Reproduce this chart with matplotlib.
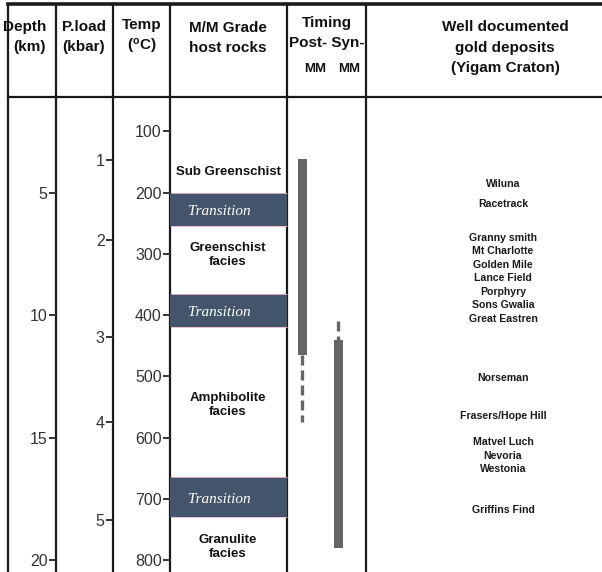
import numpy as np
import matplotlib.pyplot as plt
from matplotlib.lines import Line2D

plt.rcParams['font.family'] = ['Liberation Sans', 'DejaVu Sans']

# depth scale (km); temperature follows a 40 C/km geotherm
depth_km = [5, 10, 15, 20]
geotherm = 40.0  # degC per km

# pressure ticks and the depth at which each sits
pload_kbar = [1, 2, 3, 4, 5]
pload_km = [3.67, 6.94, 10.90, 14.37, 18.37]

temp_c = [100, 200, 300, 400, 500, 600, 700, 800]

# metamorphic grade (temperature ranges in degC)
transitions = [(200, 255), (365, 420), (665, 730)]
facies = ['Sub Greenschist', 'Greenschist\nfacies', 'Amphibolite\nfacies', 'Granulite\nfacies']
facies_t = [166, 302, 547, 779]

# mineralisation timing (degC)
post_mm_solid = (145, 465)
post_mm_dashed = (465, 575)
syn_mm_dashed = (410, 440)
syn_mm_solid = (440, 780)

deposits = ['Wiluna', 'Racetrack', 'Granny smith', 'Mt Charlotte', 'Golden Mile',
            'Lance Field', 'Porphyry', 'Sons Gwalia', 'Great Eastren', 'Norseman',
            'Frasers/Hope Hill', 'Matvel Luch', 'Nevoria', 'Westonia', 'Griffins Find']
deposit_t = [186, 219, 274, 296, 318, 340, 362, 384, 407, 503, 565, 607, 630, 651, 718]

W, H = 602, 572
fig = plt.figure(figsize=(W / 100, H / 100), dpi=100)

# frame axes in pixel units for the table grid and header
frame = fig.add_axes([0, 0, 1, 1])
frame.set_xlim(0, W)
frame.set_ylim(H, 0)
frame.axis('off')

col_x = [8, 56, 113, 170, 287, 366]
top_y, head_y = 4, 97
lc = '#1a1a1a'
frame.add_line(Line2D([8, W], [top_y, top_y], color=lc, lw=2.6))
frame.add_line(Line2D([8, W], [head_y, head_y], color=lc, lw=1.6))
for x in col_x:
    frame.add_line(Line2D([x, x], [top_y, H], color=lc, lw=1.6))

hkw = dict(ha='center', va='center', fontsize=11, fontweight='bold', color='#111111')
frame.text(25, 27, 'Depth', **hkw)
frame.text(29, 47, '(km)', **hkw)
frame.text(84, 27, 'P.load', **hkw)
frame.text(84, 47, '(kbar)', **hkw)
frame.text(142, 25, 'Temp', **hkw)
frame.text(142, 46, r'($\mathregular{^{o}}$C)', **hkw)
frame.text(228, 28, 'M/M Grade', **hkw)
frame.text(228, 48, 'host rocks', **hkw)
frame.text(327, 23, 'Timing', **hkw)
frame.text(327, 43, 'Post- Syn-', **hkw)
frame.text(304, 69, 'MM', ha='left', va='center', fontsize=9.5, fontweight='bold', color='#111111')
frame.text(360, 69, 'MM', ha='right', va='center', fontsize=9.5, fontweight='bold', color='#111111')
frame.text(505, 27, 'Well documented', **hkw)
frame.text(505, 48, 'gold deposits', **hkw)
frame.text(505, 68, '(Yigam Craton)', **hkw)

# body axes: x in pixel columns, y in temperature
y0_px, t0_px = 70.0, 0.6125  # pixel offset and px per degC
ax = fig.add_axes([0, 0, 1, (H - head_y) / H])
ax.patch.set_alpha(0)
ax.set_xlim(0, W)
ax.set_ylim((H - y0_px) / t0_px, (head_y - y0_px) / t0_px)
for s in ax.spines.values():
    s.set_visible(False)
ax.set_xticks([])

tick_kw = dict(direction='out', length=5, width=1.4, color='#333333',
               labelsize=11.5, labelcolor='#333333', pad=1)

# temperature axis on the grade column line
ax.spines['left'].set_position(('data', 170))
ax.set_yticks(temp_c, [str(t) for t in temp_c])
ax.tick_params(axis='y', **tick_kw)

# depth axis
dax = ax.secondary_yaxis(56 / W, functions=(lambda t: t / geotherm, lambda d: d * geotherm))
dax.spines['left'].set_visible(False)
dax.set_yticks(depth_km, [str(d) for d in depth_km])
dax.tick_params(axis='y', **tick_kw)

# pressure axis, ticks placed at their depths
pax = ax.secondary_yaxis(113 / W, functions=(lambda t: t / geotherm, lambda d: d * geotherm))
pax.spines['left'].set_visible(False)
pax.set_yticks(pload_km, [str(p) for p in pload_kbar])
pax.tick_params(axis='y', **tick_kw)

# transition zones
band_c = '#44546a'
for lo, hi in transitions:
    ax.barh((lo + hi) / 2, 117, height=hi - lo, left=170, color=band_c,
            linewidth=0, zorder=2)
    ax.hlines([lo, hi], 171, 287, color='#e6b8cc', lw=0.6, zorder=2)
    ax.text(188, (lo + hi) / 2 + 4, 'Transition', ha='left', va='center', fontsize=11,
            family='Liberation Serif', style='italic', color='white', zorder=3)

for name, t in zip(facies, facies_t):
    ax.text(228, t, name, ha='center', va='center', fontsize=9.5, fontweight='bold',
            color='#111111', linespacing=1.15)

# timing bars
bar_c = '#666666'
ax.bar(302, post_mm_solid[1] - post_mm_solid[0], bottom=post_mm_solid[0], width=9,
       color=bar_c, zorder=2)
ax.plot([302, 302], post_mm_dashed, color=bar_c, lw=2.4, dashes=(3, 1.5), zorder=2)
ax.bar(338, syn_mm_solid[1] - syn_mm_solid[0], bottom=syn_mm_solid[0], width=9,
       color=bar_c, zorder=2)
ax.plot([338, 338], syn_mm_dashed, color=bar_c, lw=2.4, dashes=(3, 1.5), zorder=2)

for name, t in zip(deposits, deposit_t):
    ax.text(503, t, name, ha='center', va='center', fontsize=7.6, fontweight='bold',
            color='#1a1a1a')

fig.savefig('out.png', dpi=100)
